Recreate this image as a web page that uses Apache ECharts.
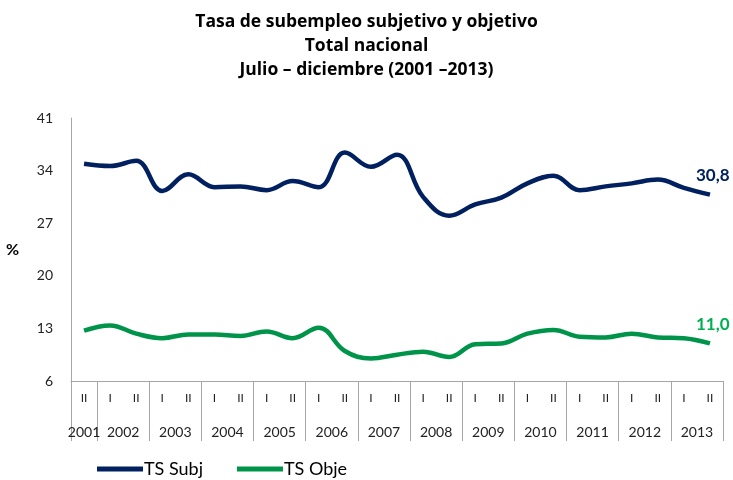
<!DOCTYPE html>
<html>
<head>
<meta charset="utf-8">
<script src="https://cdn.jsdelivr.net/npm/echarts@6/dist/echarts.min.js"></script>
<style>html,body{margin:0;padding:0;background:#fff}#c{width:733px;height:480px}</style>
</head>
<body>
<div id="c"></div>
<script>
const semesters = ['II','I','II','I','II','I','II','I','II','I','II','I','II','I','II','I','II','I','II','I','II','I','II','I','II'];
const years = ['2001','2002','2003','2004','2005','2006','2007','2008','2009','2010','2011','2012','2013'];
const tsSubj = [34.9,34.6,35.3,31.3,33.5,31.8,31.9,31.4,32.6,31.8,36.4,34.5,36.1,30.5,28.0,29.5,30.4,32.3,33.3,31.4,31.9,32.3,32.8,31.7,30.8];
const tsObje = [12.7,13.4,12.3,11.7,12.2,12.2,12.0,12.6,11.7,13.1,10.0,9.0,9.5,9.9,9.2,10.9,11.0,12.3,12.8,11.9,11.8,12.3,11.8,11.7,11.0];
const yTicks = [6,13,20,27,34,41];
const seriesNames = ['TS Subj','TS Obje'];

const FONT = 'Lato, "Noto Sans", sans-serif';
// Year axis: half-semester resolution (51 points), year label centered on its semesters
const yearCats = [];
for (let k = 0; k <= 2 * semesters.length; k++) yearCats.push('');
{
  let i = 0, yi = 0;
  while (i < semesters.length) {
    let j = i;
    while (j + 1 < semesters.length && semesters[j + 1] !== 'I') j++;
    yearCats[i + j + 1] = years[yi++];
    i = j + 1;
  }
}
const yearStart = semesters.map((s, i) => i === 0 || s === 'I');

function endLbl(color) {
  return {show: true, color: color, fontWeight: 'bold', fontSize: 17, fontFamily: FONT, offset: [-22, -19],
    formatter: p => Number(p.value).toFixed(1).replace('.', ',')};
}

const chart = echarts.init(document.getElementById('c'));
chart.setOption({
  animation: false,
  title: {
    text: 'Tasa de subempleo subjetivo y objetivo\nTotal nacional\nJulio – diciembre (2001 –2013)',
    left: 'center', top: 5,
    textStyle: {fontFamily: '"Open Sans", sans-serif', fontWeight: 'bold', fontSize: 17.5, lineHeight: 24, color: '#000'}
  },
  legend: {
    bottom: -3, left: 92, itemWidth: 46, itemHeight: 5, itemGap: 34, icon: 'rect',
    textStyle: {fontFamily: FONT, fontSize: 18, color: '#000', padding: [0, 0, 0, -4]},
    data: seriesNames
  },
  grid: {left: 71, right: 10, top: 118, bottom: 99},
  xAxis: [{
    type: 'category', data: semesters, boundaryGap: true,
    axisLine: {lineStyle: {color: '#a6a6a6', width: 1}},
    axisTick: {show: true, length: 60, lineStyle: {color: '#a6a6a6'}, interval: (idx) => yearStart[idx] === true},
    axisLabel: {interval: 0, margin: 11, fontFamily: FONT, fontSize: 12, color: '#222'}
  }, {
    type: 'category', data: yearCats, boundaryGap: false, position: 'bottom',
    axisLine: {show: false}, axisTick: {show: false},
    axisLabel: {interval: 0, margin: 44, fontFamily: FONT, fontSize: 14, color: '#222'}
  }],
  yAxis: {
    type: 'value', min: 6, max: 41,
    name: '%', nameLocation: 'middle', nameRotate: 0, nameGap: 52,
    nameTextStyle: {fontFamily: FONT, fontWeight: 'bold', fontSize: 16, color: '#000'},
    axisLine: {show: true, lineStyle: {color: '#a6a6a6'}},
    axisTick: {show: false},
    splitLine: {show: false},
    axisLabel: {customValues: yTicks, margin: 18, fontFamily: FONT, fontSize: 14, color: '#222'}
  },
  series: [{
    name: seriesNames[0], type: 'line', data: tsSubj, smooth: 0.4, symbol: 'none',
    itemStyle: {color: '#002060'}, lineStyle: {color: '#002060', width: 4.5},
    endLabel: endLbl('#002060')
  }, {
    name: seriesNames[1], type: 'line', data: tsObje, smooth: 0.4, symbol: 'none',
    itemStyle: {color: '#00944A'}, lineStyle: {color: '#00944A', width: 4.5},
    endLabel: endLbl('#00B050')
  }]
});
</script>
</body>
</html>
